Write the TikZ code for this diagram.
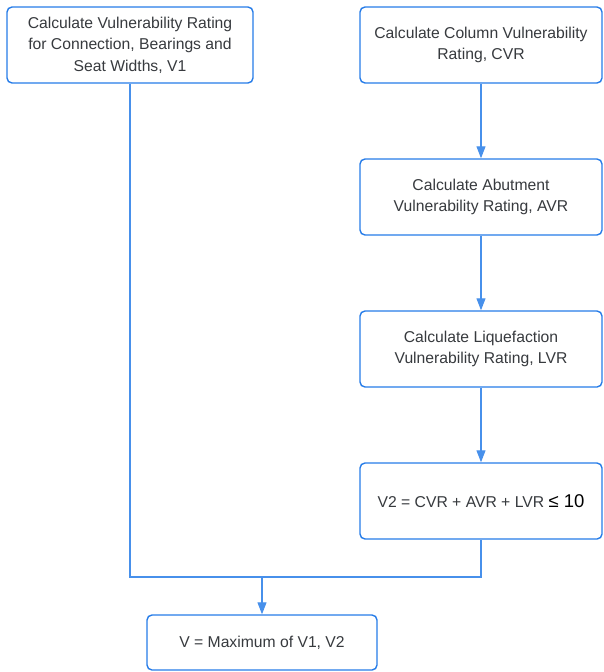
\documentclass[tikz,border=0pt]{standalone}
\usepackage{fontspec}
\setmainfont{Liberation Sans}
\usepackage{xcolor}
\usepackage{tikz}
\usetikzlibrary{positioning}
\usetikzlibrary{calc,arrows.meta}

\definecolor{flowblue}{RGB}{38,124,232}
\definecolor{flowtext}{RGB}{55,58,62}

\tikzset{
    stepbox/.style={draw=flowblue, line width=1.4pt, rounded corners=5pt, fill=white,
        text=flowtext, align=center, inner sep=2pt,
        font=\fontsize{15.7}{21.5}\selectfont},
    flow/.style={draw=flowblue!85, line width=1.1pt},
    flowarrow/.style={flow, -{Triangle[length=12pt,width=9pt]}}
}

\begin{document}
\begin{tikzpicture}[x=1pt,y=-1pt]
    \useasboundingbox (0,0) rectangle (603,672);

    % Draw the boxes
    \node[stepbox, minimum width=246pt, minimum height=76pt] (vone) at (130,45)
        {Calculate Vulnerability Rating\\for Connection, Bearings and\\Seat Widths, V1};
    \node[stepbox, minimum width=242pt, minimum height=76pt] (cvr) at (481,45)
        {Calculate Column Vulnerability\\Rating, CVR};
    \node[stepbox, minimum width=242pt, minimum height=76pt] (avr) at (481,197)
        {Calculate Abutment\\Vulnerability Rating, AVR};
    \node[stepbox, minimum width=242pt, minimum height=76pt] (lvr) at (481,349)
        {Calculate Liquefaction\\Vulnerability Rating, LVR};
    \node[stepbox, minimum width=242pt, minimum height=76pt] (vtwo) at (481,501)
        {V2 = CVR + AVR + LVR {\color{black}\fontsize{18.5}{20}\selectfont ≤ 10}};
    \node[stepbox, minimum width=230pt, minimum height=55pt] (vmax) at (262,642.5)
        {V = Maximum of V1, V2};

    % Draw the connectors
    \coordinate (join) at (262,577);
    \draw[flowarrow] (cvr) -- (avr);
    \draw[flowarrow] (avr) -- (lvr);
    \draw[flowarrow] (lvr) -- (vtwo);
    \draw[flow] (vone.south) |- (join) -| (vtwo.south);
    \draw[flowarrow] (join) -- (vmax);
\end{tikzpicture}
\end{document}
